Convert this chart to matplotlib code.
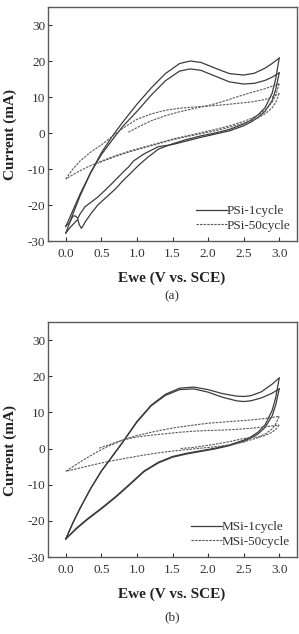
import matplotlib
matplotlib.use("Agg")
import matplotlib.pyplot as plt

plt.rcParams['font.family'] = ['Liberation Serif', 'DejaVu Serif']

# ---------------- Panel (a) : PSi ----------------
# PSi-1cycle, cycle 1 anodic (0 -> 3 V)
a1_up1_x = [0.0, 0.1, 0.2, 0.35, 0.5, 0.65, 0.8, 1.0, 1.2, 1.4, 1.6, 1.75, 1.9, 2.1, 2.3, 2.5, 2.65, 2.8, 2.9, 3.0]
a1_up1_y = [-26, -21.5, -17, -11, -5.5, -1, 3, 8, 12.5, 16.5, 19.3, 20, 19.6, 18, 16.5, 16.1, 16.6, 18, 19.3, 20.8]
# cycle 1 cathodic (3 -> 0 V)
a1_dn1_x = [3.0, 2.95, 2.9, 2.8, 2.7, 2.6, 2.5, 2.3, 2.1, 1.9, 1.7, 1.5, 1.3, 1.15, 1.05, 0.97, 0.9, 0.8, 0.7, 0.6, 0.45, 0.35, 0.28, 0.22, 0.19, 0.17, 0.12, 0.05, 0.0]
a1_dn1_y = [20.8, 15, 11, 7, 5, 3.5, 2.5, 1, 0, -0.8, -1.8, -3, -4.5, -6.8, -8.5, -10, -11.4, -13.3, -15.5, -17.3, -20, -22.5, -24.5, -26.5, -25.5, -24, -25, -26.5, -27.8]
# cycle 2 anodic
a1_up2_x = [0.0, 0.1, 0.2, 0.35, 0.5, 0.65, 0.8, 1.0, 1.2, 1.4, 1.6, 1.75, 1.9, 2.1, 2.3, 2.5, 2.65, 2.8, 2.9, 3.0]
a1_up2_y = [-27.8, -22.5, -17.5, -11, -6, -2, 1.8, 6, 10.5, 14.5, 17.2, 17.8, 17.4, 15.8, 14.2, 13.6, 13.8, 14.6, 15.5, 16.7]
# cycle 2 cathodic
a1_dn2_x = [3.0, 2.95, 2.9, 2.8, 2.7, 2.6, 2.5, 2.3, 2.1, 1.9, 1.7, 1.5, 1.3, 1.1, 0.95, 0.88, 0.85, 0.75, 0.6, 0.45, 0.35, 0.27, 0.2, 0.17, 0.13, 0.1, 0.05, 0.0]
a1_dn2_y = [16.7, 12, 9, 6, 4.3, 3, 2, 0.6, -0.3, -1.2, -2.2, -3.2, -3.8, -5.8, -7.8, -9.5, -10, -12, -15, -17.8, -19.3, -20.5, -22.5, -23.7, -23, -23.1, -25, -25.8]

# PSi-50cycle
a50_up1_x = [0.88, 1.0, 1.2, 1.4, 1.6, 1.8, 2.0, 2.2, 2.4, 2.6, 2.8, 2.9, 3.0]
a50_up1_y = [0.2, 1.5, 3.4, 4.8, 5.9, 6.8, 7.6, 8.7, 10, 11.2, 12.3, 13, 13.7]
a50_dn1_x = [3.0, 2.95, 2.9, 2.8, 2.7, 2.6, 2.5, 2.3, 2.1, 1.9, 1.7, 1.5, 1.3, 1.1, 0.9, 0.7, 0.5, 0.3, 0.15, 0.0]
a50_dn1_y = [13.7, 10.5, 8.5, 6.3, 5, 4, 3.2, 2, 1, 0.1, -0.8, -1.7, -2.8, -3.9, -5, -6.3, -7.8, -9.5, -11, -12.8]
a50_up2_x = [0.0, 0.1, 0.2, 0.35, 0.5, 0.65, 0.8, 1.0, 1.2, 1.4, 1.6, 1.8, 2.0, 2.2, 2.4, 2.6, 2.8, 2.9, 3.0]
a50_up2_y = [-12.8, -10, -7.8, -5.3, -3.3, -1.0, 1.3, 3.8, 5.3, 6.3, 6.9, 7.2, 7.5, 7.8, 8.2, 8.6, 9.3, 10, 11]
a50_dn2_x = [3.0, 2.95, 2.9, 2.8, 2.7, 2.6, 2.5, 2.3, 2.1, 1.9, 1.7, 1.5, 1.3, 1.1, 0.9, 0.7, 0.5, 0.45]
a50_dn2_y = [11, 8.5, 7, 5.3, 4.2, 3.4, 2.7, 1.6, 0.6, -0.2, -1.0, -1.9, -3.0, -4.1, -5.2, -6.5, -8, -8.4]

# ---------------- Panel (b) : MSi ----------------
b1_up1_x = [0.0, 0.1, 0.2, 0.35, 0.5, 0.65, 0.8, 1.0, 1.2, 1.4, 1.6, 1.8, 2.0, 2.2, 2.4, 2.5, 2.6, 2.75, 2.9, 3.0]
b1_up1_y = [-25, -20.5, -16.5, -11, -6.2, -2.2, 1.8, 7.5, 12, 15, 16.7, 17, 16.3, 15.2, 14.5, 14.4, 14.6, 15.7, 17.8, 19.5]
b1_dn1_x = [3.0, 2.95, 2.9, 2.8, 2.7, 2.6, 2.5, 2.3, 2.1, 1.9, 1.7, 1.5, 1.3, 1.1, 0.9, 0.7, 0.5, 0.3, 0.15, 0.0]
b1_dn1_y = [19.5, 14, 10.5, 6.5, 4.5, 3.2, 2.3, 1, 0.1, -0.6, -1.3, -2.2, -3.8, -6.2, -9.8, -13.3, -16.5, -19.5, -22, -25]
b1_up2_x = [0.0, 0.1, 0.2, 0.35, 0.5, 0.65, 0.8, 1.0, 1.2, 1.4, 1.6, 1.8, 2.0, 2.2, 2.4, 2.5, 2.6, 2.75, 2.9, 3.0]
b1_up2_y = [-25, -20.6, -16.6, -11.1, -6.3, -2.3, 1.7, 7.3, 11.8, 14.7, 16.3, 16.5, 15.6, 14.2, 13.2, 13, 13.2, 14, 15.3, 16.5]
b1_dn2_x = [3.0, 2.95, 2.9, 2.8, 2.7, 2.6, 2.5, 2.3, 2.1, 1.9, 1.7, 1.5, 1.3, 1.1, 0.9, 0.7, 0.5, 0.3, 0.15, 0.0]
b1_dn2_y = [16.5, 12, 9, 5.8, 4, 2.9, 2.0, 0.8, -0.1, -0.8, -1.5, -2.4, -4.0, -6.4, -10, -13.5, -16.7, -19.7, -22.2, -25]

b50_up1_x = [0.47, 0.6, 0.7, 0.83, 1.0, 1.2, 1.4, 1.6, 1.8, 2.0, 2.2, 2.4, 2.6, 2.8, 3.0]
b50_up1_y = [0.1, 1.0, 1.7, 2.5, 3.2, 3.7, 4.1, 4.5, 4.8, 5.0, 5.1, 5.3, 5.6, 6.0, 6.5]
b50_dn1_x = [3.0, 2.95, 2.9, 2.8, 2.7, 2.5, 2.3, 2.1, 1.9, 1.7, 1.5, 1.3, 1.1, 0.9, 0.7, 0.5, 0.3, 0.15, 0.0]
b50_dn1_y = [6.5, 5.3, 4.5, 3.6, 3.0, 1.8, 1.0, 0.5, 0.1, -0.3, -0.7, -1.2, -1.8, -2.5, -3.2, -4.0, -4.9, -5.6, -6.3]
b50_up2_x = [0.0, 0.1, 0.26, 0.4, 0.55, 0.7, 0.83, 1.0, 1.2, 1.4, 1.54, 1.8, 2.0, 2.2, 2.4, 2.6, 2.8, 3.0]
b50_up2_y = [-6.3, -5.0, -3.0, -1.4, 0.2, 1.5, 2.6, 3.6, 4.5, 5.3, 5.8, 6.5, 7.0, 7.3, 7.6, 7.9, 8.3, 8.9]
b50_dn2_x = [3.0, 2.95, 2.9, 2.8, 2.7, 2.5, 2.3, 2.1, 1.9, 1.75, 1.6]
b50_dn2_y = [8.9, 6.8, 5.4, 4.0, 3.2, 2.8, 1.9, 1.2, 0.6, 0.2, 0.0]

x_ticks = [0.0, 0.5, 1.0, 1.5, 2.0, 2.5, 3.0]
y_ticks = [-30, -20, -10, 0, 10, 20, 30]
x_label = "Ewe (V vs. SCE)"
y_label = "Current (mA)"

panels = [
    dict(tag="(a)", labels=("PSi-1cycle", "PSi-50cycle"),
         solid=[(a1_up1_x, a1_up1_y), (a1_dn1_x, a1_dn1_y), (a1_up2_x, a1_up2_y), (a1_dn2_x, a1_dn2_y)],
         dashed=[(a50_up1_x, a50_up1_y), (a50_dn1_x, a50_dn1_y), (a50_up2_x, a50_up2_y), (a50_dn2_x, a50_dn2_y)],
         rect=[48/299, 1-241/634, 249/299, 234/634], leg=(0.595, 0.04),
         xlab_y=1-278/634, tag_y=1-296/634, ylab_y=1-135/634),
    dict(tag="(b)", labels=("MSi-1cycle", "MSi-50cycle"),
         solid=[(b1_up1_x, b1_up1_y), (b1_dn1_x, b1_dn1_y), (b1_up2_x, b1_up2_y), (b1_dn2_x, b1_dn2_y)],
         dashed=[(b50_up1_x, b50_up1_y), (b50_dn1_x, b50_dn1_y), (b50_up2_x, b50_up2_y), (b50_dn2_x, b50_dn2_y)],
         rect=[48/299, 1-557/634, 249/299, 235/634], leg=(0.575, 0.04),
         xlab_y=1-594/634, tag_y=1-617/634, ylab_y=1-451/634),
]

fig = plt.figure(figsize=(2.99, 6.34), dpi=100)
solid_c = '#3c3c3c'
dash_c = '#5a5a5a'
for p in panels:
    ax = fig.add_axes(p['rect'])
    for i, (xs, ys) in enumerate(p['solid']):
        ax.plot(xs, ys, color=solid_c, lw=0.9, label=p['labels'][0] if i == 0 else None)
    for i, (xs, ys) in enumerate(p['dashed']):
        ax.plot(xs, ys, color=dash_c, lw=0.8, ls=(0, (2.2, 1.0)),
                label=p['labels'][1] if i == 0 else None)
    ax.set_xlim(-0.25, 3.25)
    ax.set_ylim(-30, 35)
    ax.set_xticks(x_ticks)
    ax.set_xticklabels([f"{v:.1f}" for v in x_ticks])
    ax.set_yticks(y_ticks)
    ax.set_yticklabels([str(v) for v in y_ticks])
    ax.tick_params(direction='in', length=3, width=0.8, labelsize=9.5, colors='#333333',
                   top=False, right=False)
    ax.tick_params(axis='x', pad=5)
    ax.tick_params(axis='y', pad=2)
    for s in ax.spines.values():
        s.set_color('#5a5a5a')
        s.set_linewidth(1.0)
    leg = ax.legend(loc='lower left', bbox_to_anchor=p['leg'], frameon=False,
                    fontsize=9.5, handlelength=2.3, handletextpad=0.0,
                    borderpad=0, borderaxespad=0, labelspacing=0.15)
    for t in leg.get_texts():
        t.set_color('#333333')
    fig.text(172/299, p['xlab_y'], x_label, ha='center', va='center',
             fontsize=11, fontweight='bold', color='#222222')
    fig.text(172/299, p['tag_y'], p['tag'], ha='center', va='center',
             fontsize=9.5, color='#333333')
    fig.text(10/299, p['ylab_y'], y_label, ha='center', va='center', rotation=90,
             fontsize=11, fontweight='bold', color='#222222')

fig.savefig("out.png", dpi=100)
